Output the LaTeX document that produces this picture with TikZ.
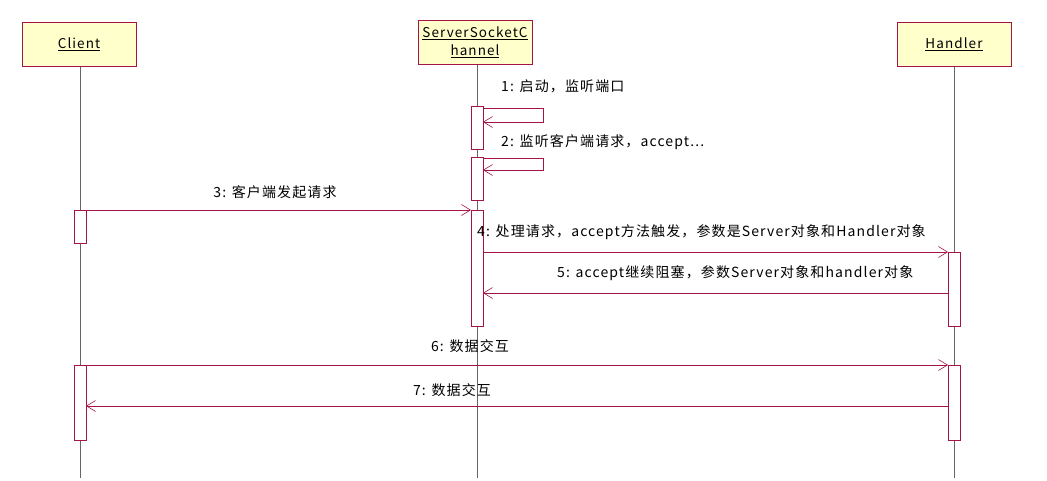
\documentclass[tikz,border=0pt]{standalone}
\usepackage{fontspec}
\setmainfont[LetterSpace=8]{Noto Sans CJK SC}
\usepackage{tikz}
\usetikzlibrary{arrows.meta}
\definecolor{uml}{RGB}{165,20,70}
\definecolor{boxfill}{RGB}{255,255,204}
\tikzset{
  head/.style={draw=uml,fill=boxfill,minimum width=114pt,minimum height=44pt,align=center,inner sep=1pt,font=\fontsize{13.5pt}{18pt}\selectfont},
  life/.style={draw=gray!80!black,line width=0.6pt},
  actbox/.style={draw=uml,fill=white,line width=0.6pt},
  msg/.style={draw=uml,line width=0.6pt,-{Straight Barb[length=9pt,width=11pt]}},
  lbl/.style={font=\fontsize{14pt}{16pt}\selectfont,inner sep=1pt}
}
\begin{document}
\begin{tikzpicture}[x=1pt,y=-1pt]
\useasboundingbox (0,0) rectangle (1047,480);
% lifelines
\draw[life] (80,66) -- (80,478);
\draw[life] (477,64) -- (477,478);
\draw[life] (954,66) -- (954,478);
% heads
\node[head] (client) at (79,44) {\underline{Client}};
\node[head] (server) at (475,42) {\underline{ServerSocketC}\\\underline{hannel}};
\node[head] (handler) at (954,44) {\underline{Handler}};
% activations
\draw[actbox] (471,106) rectangle (483,149);
\draw[actbox] (471,157) rectangle (483,200);
\draw[actbox] (471,210) rectangle (483,326);
\draw[actbox] (74,210) rectangle (86,243);
\draw[actbox] (948,252) rectangle (960,326);
\draw[actbox] (74,365) rectangle (86,440);
\draw[actbox] (948,365) rectangle (960,440);
% messages
\coordinate (s1) at (483,108);
\coordinate (s1e) at (483,122);
\coordinate (s2) at (483,158);
\coordinate (s2e) at (483,170);
\draw[msg] (s1) -- (543,108) -- (543,122) -- (s1e);
\node[lbl,anchor=west] (m1) at (500,86) {1: 启动，监听端口};
\draw[msg] (s2) -- (543,158) -- (543,170) -- (s2e);
\node[lbl,anchor=west] (m2) at (500,142) {2: 监听客户端请求，accept...};
\coordinate (c3) at (86,210);
\coordinate (s3) at (471,210);
\draw[msg] (c3) -- (s3);
\node[lbl] (m3) at (275,192) {3: 客户端发起请求};
\coordinate (s4) at (483,252);
\coordinate (h4) at (948,252);
\draw[msg] (s4) -- (h4);
\node[lbl,anchor=west] (m4) at (476,232) {4: 处理请求，accept方法触发，参数是Server对象和Handler对象};
\coordinate (h5) at (948,293);
\coordinate (s5) at (483,293);
\draw[msg] (h5) -- (s5);
\node[lbl,anchor=west] (m5) at (556,273) {5: accept继续阻塞，参数Server对象和handler对象};
\coordinate (c6) at (86,365);
\coordinate (h6) at (948,365);
\draw[msg] (c6) -- (h6);
\node[lbl] (m6) at (470,346) {6: 数据交互};
\coordinate (h7) at (948,406);
\coordinate (c7) at (86,406);
\draw[msg] (h7) -- (c7);
\node[lbl] (m7) at (452,390) {7: 数据交互};
\end{tikzpicture}
\end{document}
